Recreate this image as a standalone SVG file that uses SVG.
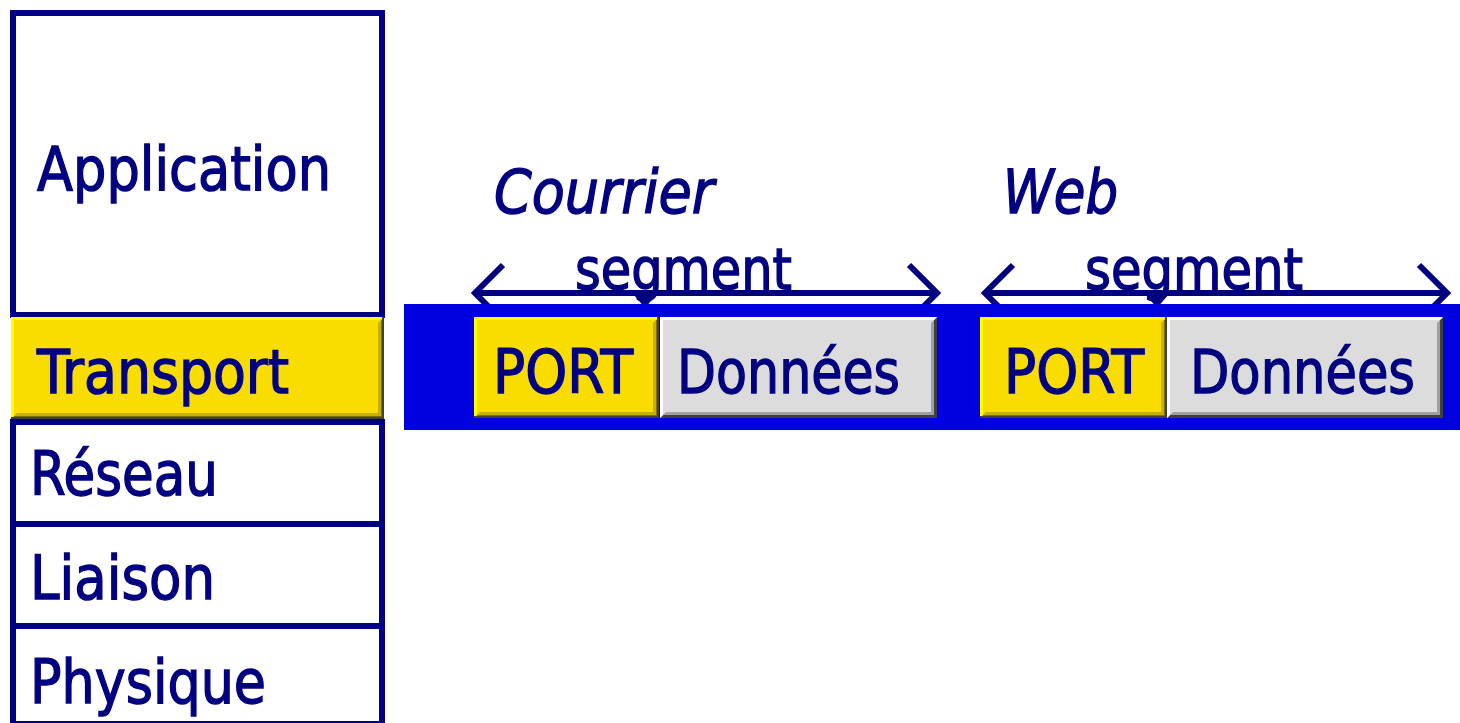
<svg xmlns="http://www.w3.org/2000/svg" width="1460" height="723" viewBox="0 0 1460 723">
  <defs>
    <style>
      .lbl { font-family: "DejaVu Sans", "Liberation Sans", sans-serif; font-size: 60px; fill: #000080; stroke: #000080; stroke-width: 1.4px; }
      .ital { font-style: italic; }
      .seg { font-size: 57px; }
      .layer { fill: #ffffff; stroke: #000080; stroke-width: 6; }
      .y-base { fill: #f9dc00; }
      .y-hi { fill: #ffff00; }
      .y-mid { fill: #c8b000; }
      .y-lo { fill: #7f6e00; }
      .g-base { fill: #dcdcdc; }
      .g-hi { fill: #ffffff; }
      .g-mid { fill: #a0a0a0; }
      .g-lo { fill: #404040; }
      .brace { fill: none; stroke: #000080; stroke-width: 6; stroke-linejoin: miter; }
      .tick { fill: #000080; }
      .band { fill: #0000e0; }
    </style>
  </defs>

  <!-- protocol stack -->
  <g id="layer-application">
    <rect class="layer" x="13" y="13" width="369" height="302"/>
    <text class="lbl" x="37" y="190" textLength="294" lengthAdjust="spacingAndGlyphs">Application</text>
  </g>
  <g id="layer-reseau">
    <rect class="layer" x="13" y="422" width="369" height="102"/>
    <text class="lbl" x="30" y="495" textLength="188" lengthAdjust="spacingAndGlyphs">Réseau</text>
  </g>
  <g id="layer-liaison">
    <rect class="layer" x="13" y="524" width="369" height="102"/>
    <text class="lbl" x="30" y="599" textLength="185" lengthAdjust="spacingAndGlyphs">Liaison</text>
  </g>
  <g id="layer-physique">
    <rect class="layer" x="13" y="626" width="369" height="98"/>
    <text class="lbl" x="30" y="703" textLength="236" lengthAdjust="spacingAndGlyphs">Physique</text>
  </g>
  <g id="layer-transport">
    <rect class="y-base" x="11" y="317" width="373" height="102"/>
    <polygon class="y-mid" points="384,317 384,419 11,419 17,413 378,413 378,323"/>
    <polygon class="y-lo" points="384,317 384,419 11,419 14,416 381,416 381,320"/>
    <polygon class="y-hi" points="11,317 384,317 381,320 14,320 14,416 11,419"/>
    <rect x="11" y="417" width="373" height="2" fill="#404040"/>
    <rect x="382" y="317" width="2" height="102" fill="#404040"/>
    <text class="lbl" x="37" y="393" textLength="252" lengthAdjust="spacingAndGlyphs">Transport</text>
  </g>

  <!-- application labels -->
  <g id="app-courrier">
    <text class="lbl ital" x="494" y="213" textLength="220" lengthAdjust="spacingAndGlyphs">Courrier</text>
  </g>
  <g id="app-web">
    <text class="lbl ital" x="1003" y="213" textLength="115" lengthAdjust="spacingAndGlyphs">Web</text>
  </g>

  <!-- segment braces -->
  <g id="connectors">
    <path class="brace" d="M474 293 H938 M503 265 L475 293 L503 321 M909 265 L937 293 L909 321"/>
    <polygon class="tick" points="634,295 656,295 645,308"/>
    <path class="brace" d="M984 293 H1448 M1013 265 L985 293 L1013 321 M1419 265 L1447 293 L1419 321"/>
    <polygon class="tick" points="1146,295 1168,295 1157,308"/>
    <text class="lbl seg" x="575" y="289" textLength="217" lengthAdjust="spacingAndGlyphs">segment</text>
    <text class="lbl seg" x="1085" y="289" textLength="218" lengthAdjust="spacingAndGlyphs">segment</text>
  </g>

  <!-- transport stream -->
  <g id="stream">
    <rect class="band" x="404" y="304" width="1060" height="126"/>
  </g>

  <g id="seg1-port">
    <rect class="y-base" x="474" y="317" width="185" height="101"/>
    <polygon class="y-mid" points="659,317 659,418 474,418 480,412 653,412 653,323"/>
    <polygon class="y-lo" points="659,317 659,418 474,418 477,415 656,415 656,320"/>
    <polygon class="y-hi" points="474,317 659,317 656,320 477,320 477,415 474,418"/>
    <rect x="474" y="416" width="185" height="2" fill="#404040"/>
    <rect x="657" y="317" width="2" height="101" fill="#404040"/>
    <text class="lbl" x="493" y="393" textLength="140" lengthAdjust="spacingAndGlyphs">PORT</text>
  </g>
  <g id="seg1-data">
    <rect class="g-base" x="660" y="317" width="277" height="101"/>
    <polygon class="g-mid" points="937,317 937,418 660,418 666,412 931,412 931,323"/>
    <polygon class="g-lo" points="937,317 937,418 660,418 663,415 934,415 934,320"/>
    <polygon class="g-hi" points="660,317 937,317 934,320 663,320 663,415 660,418"/>
    <text class="lbl" x="677" y="393" textLength="223" lengthAdjust="spacingAndGlyphs">Données</text>
  </g>

  <g id="seg2-port">
    <rect class="y-base" x="980" y="317" width="187" height="101"/>
    <polygon class="y-mid" points="1167,317 1167,418 980,418 986,412 1161,412 1161,323"/>
    <polygon class="y-lo" points="1167,317 1167,418 980,418 983,415 1164,415 1164,320"/>
    <polygon class="y-hi" points="980,317 1167,317 1164,320 983,320 983,415 980,418"/>
    <rect x="980" y="416" width="187" height="2" fill="#404040"/>
    <rect x="1165" y="317" width="2" height="101" fill="#404040"/>
    <text class="lbl" x="1004" y="393" textLength="140" lengthAdjust="spacingAndGlyphs">PORT</text>
  </g>
  <g id="seg2-data">
    <rect class="g-base" x="1167" y="317" width="276" height="101"/>
    <polygon class="g-mid" points="1443,317 1443,418 1167,418 1173,412 1437,412 1437,323"/>
    <polygon class="g-lo" points="1443,317 1443,418 1167,418 1170,415 1440,415 1440,320"/>
    <polygon class="g-hi" points="1167,317 1443,317 1440,320 1170,320 1170,415 1167,418"/>
    <text class="lbl" x="1190" y="393" textLength="225" lengthAdjust="spacingAndGlyphs">Données</text>
  </g>
</svg>
